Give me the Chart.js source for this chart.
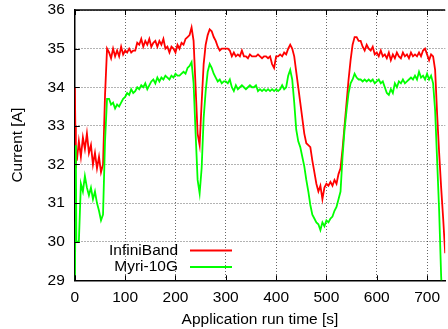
<!DOCTYPE html>
<html>
<head>
<meta charset="utf-8">
<script src="https://cdn.jsdelivr.net/npm/chart.js@4/dist/chart.umd.min.js"></script>
<style>
  html, body { margin: 0; padding: 0; background: #fff; overflow: hidden; }
  #wrap { width: 448px; height: 329px; }
</style>
</head>
<body>
<div id="wrap"><canvas id="powerChart" width="448" height="329"></canvas></div>
<script>
// =====================
// Data
// =====================
const timeSec = [
    0, 1, 2, 3, 4, 8, 12, 16, 20, 24, 28, 32, 36, 40, 44, 48, 52, 56, 60, 64,
    68, 72, 76, 80, 84, 88, 92, 96, 100, 104, 108, 112, 116, 120, 124, 128, 132, 136, 140, 144,
    148, 152, 156, 160, 164, 168, 172, 176, 180, 184, 188, 192, 196, 200, 204, 208, 212, 216, 220, 224,
    228, 232, 236, 240, 244, 248, 252, 256, 260, 264, 268, 272, 276, 280, 284, 288, 292, 296, 300, 304,
    308, 312, 316, 320, 324, 328, 332, 336, 340, 344, 348, 352, 356, 360, 364, 368, 372, 376, 380, 384,
    388, 392, 396, 400, 404, 408, 412, 416, 420, 424, 428, 432, 436, 440, 444, 448, 452, 456, 460, 464,
    468, 472, 476, 480, 484, 488, 492, 496, 500, 504, 508, 512, 516, 520, 524, 528, 532, 536, 540, 544,
    548, 552, 556, 560, 564, 568, 572, 576, 580, 584, 588, 592, 596, 600, 604, 608, 612, 616, 620, 624,
    628, 632, 636, 640, 644, 648, 652, 656, 660, 664, 668, 672, 676, 680, 684, 688, 692, 696, 700, 704,
    708, 712, 716, 720, 724, 728, 732, 736, 740, 744
];

const infiniBand = [
    34.0, 33.0, 31.9, 32.3, 32.1, 32.6, 32.2, 32.7, 32.4, 32.8, 32.3, 32.5, 32.0, 32.3, 31.9, 32.2, 31.8, 32.0, 33.8, 35.0,
    34.9, 34.75, 35.0, 34.8, 34.95, 34.8, 35.05, 34.85, 34.95, 34.9, 35.0, 34.9, 34.95, 34.95, 35.15, 35.1, 35.25, 35.05, 35.2, 35.1,
    35.25, 35.05, 35.15, 35.2, 35.05, 35.2, 35.1, 35.25, 35.0, 35.05, 34.9, 35.05, 35.0, 34.9, 35.1, 35.0, 35.15, 35.1, 35.25, 35.3,
    35.35, 35.55, 35.2, 34.0, 32.8, 32.5, 33.6, 34.6, 35.1, 35.35, 35.5, 35.45, 35.3, 35.2, 35.05, 34.95, 35.0, 35.0, 35.0, 35.0,
    34.95, 34.8, 34.9, 34.8, 34.85, 34.8, 34.95, 34.8, 34.8, 34.75, 34.85, 34.8, 34.8, 34.8, 34.85, 34.8, 34.75, 34.8, 34.8, 34.75,
    34.8, 34.6, 34.5, 34.8, 34.8, 34.85, 34.8, 34.9, 34.85, 35.0, 35.1, 35.0, 34.8, 34.4, 34.0, 33.6, 33.2, 32.8, 32.55, 32.5,
    32.45, 32.1, 31.8, 31.5, 31.3, 31.45, 31.1, 31.4, 31.5, 31.45, 31.55, 31.45, 31.6, 31.5, 31.75, 31.9, 32.4, 33.0, 33.6, 34.2,
    34.7, 35.1, 35.3, 35.3, 35.2, 35.2, 35.05, 34.95, 35.1, 35.0, 34.95, 35.05, 34.85, 34.9, 34.8, 34.95, 34.8, 34.85, 34.75, 34.9,
    34.7, 34.85, 34.75, 34.9, 34.8, 34.75, 34.9, 34.8, 34.85, 34.75, 34.9, 34.8, 34.85, 34.8, 34.9, 34.8, 34.95, 35.0, 34.85, 34.7,
    34.85, 34.8, 34.45, 33.3, 32.3, 31.4, 30.6, 29.7, 28.9, 28.2
];

const myri10G = [
    28.6, 30.5, 32.5, 30.0, 30.0, 30.0, 31.5, 31.3, 31.7, 31.4, 31.2, 31.4, 31.1, 31.3, 31.0, 30.8, 30.55, 30.7, 32.6, 33.7,
    33.7, 33.55, 33.6, 33.45, 33.55, 33.5, 33.6, 33.7, 33.75, 33.85, 33.8, 33.95, 33.85, 33.9, 34.0, 33.95, 34.05, 34.0, 34.1, 33.95,
    34.05, 34.15, 34.2, 34.1, 34.25, 34.15, 34.25, 34.2, 34.3, 34.25, 34.2, 34.3, 34.25, 34.35, 34.3, 34.3, 34.35, 34.4, 34.35, 34.5,
    34.55, 34.65, 34.1, 32.8, 31.6, 31.25, 31.9, 33.2, 33.9, 34.4, 34.6, 34.5, 34.35, 34.25, 34.15, 34.2, 34.1, 34.15, 34.15, 34.1,
    34.2, 34.0, 33.9, 34.05, 33.95, 34.0, 34.05, 34.0, 33.95, 34.0, 34.05, 34.0, 34.0, 34.05, 33.9, 33.95, 33.9, 33.95, 33.9, 33.95,
    33.9, 33.95, 33.9, 33.95, 33.9, 33.95, 34.05, 33.95, 34.0, 34.3, 34.45, 34.2, 33.6, 32.9, 32.6, 32.45, 32.2, 31.95, 31.6, 31.3,
    30.95, 30.7, 30.6, 30.5, 30.45, 30.3, 30.5, 30.4, 30.55, 30.5, 30.6, 30.65, 30.8, 30.9, 31.1, 31.3, 32.2, 32.9, 33.4, 33.85,
    34.1, 34.2, 34.35, 34.25, 34.2, 34.2, 34.15, 34.2, 34.15, 34.2, 34.15, 34.2, 34.1, 34.15, 34.2, 34.1, 34.15, 34.0, 33.85, 33.8,
    33.95, 33.85, 34.1, 34.0, 34.15, 34.1, 34.2, 34.1, 34.15, 34.2, 34.25, 34.2, 34.3, 34.2, 34.4, 34.25, 34.3, 34.2, 34.35, 34.2,
    34.3, 34.1, 33.4, 32.1, 30.8, 29.1, 28.0, 28.0, 28.0, 28.0
];

const yTicks = [29, 30, 31, 32, 33, 34, 35, 36];
const xTicks = [0, 100, 200, 300, 400, 500, 600, 700];

const seriesNames = ['InfiniBand', 'Myri-10G'];
const seriesColors = ['#ff0000', '#00ff00'];

const FONT = { family: '"Liberation Sans", Arial, sans-serif', size: 15.5 };

// =====================
// Frame + gnuplot style key
// =====================
const framePlugin = {
    id: 'frame',
    afterDraw(chart) {
        const { ctx, chartArea } = chart;
        const xs = chart.scales.x;
        const ys = chart.scales.y;
        ctx.save();
        ctx.setLineDash([]);
        // top border
        ctx.strokeStyle = '#000';
        ctx.lineWidth = 1.5;
        ctx.beginPath();
        ctx.moveTo(chartArea.left, chartArea.top);
        ctx.lineTo(chartArea.right, chartArea.top);
        ctx.stroke();

        // small inward tick marks
        ctx.lineWidth = 1;
        ctx.beginPath();
        xTicks.forEach(v => {
            const px = Math.round(xs.getPixelForValue(v)) + 0.5;
            ctx.moveTo(px, chartArea.bottom);
            ctx.lineTo(px, chartArea.bottom - 5);
            ctx.moveTo(px, chartArea.top);
            ctx.lineTo(px, chartArea.top + 5);
        });
        yTicks.forEach(v => {
            const py = Math.round(ys.getPixelForValue(v)) + 0.5;
            ctx.moveTo(chartArea.left, py);
            ctx.lineTo(chartArea.left + 5, py);
        });
        ctx.stroke();

        // key: text right-aligned, then sample line
        ctx.font = FONT.size + 'px ' + FONT.family;
        ctx.textAlign = 'right';
        ctx.textBaseline = 'middle';
        ctx.fillStyle = '#000';
        const keyY = [250.5, 267];
        seriesNames.forEach((name, i) => {
            ctx.fillText(name, 178, keyY[i]);
            ctx.strokeStyle = seriesColors[i];
            ctx.lineWidth = 2;
            ctx.beginPath();
            ctx.moveTo(190, keyY[i]);
            ctx.lineTo(232, keyY[i]);
            ctx.stroke();
        });
        ctx.restore();
    }
};

// =====================
// Chart
// =====================
function initChart() {
    const ctx = document.getElementById('powerChart').getContext('2d');
    const gridStyle = {
        color: 'rgba(0,0,0,0.6)',
        lineWidth: 1,
        drawTicks: false
    };

    new Chart(ctx, {
        type: 'line',
        data: {
            datasets: [
                {
                    label: seriesNames[0],
                    data: timeSec.map((t, i) => ({ x: t, y: infiniBand[i] })),
                    borderColor: seriesColors[0],
                    borderWidth: 1.8,
                    pointRadius: 0,
                    tension: 0,
                    order: 1
                },
                {
                    label: seriesNames[1],
                    data: timeSec.map((t, i) => ({ x: t, y: myri10G[i] })),
                    borderColor: seriesColors[1],
                    borderWidth: 1.8,
                    pointRadius: 0,
                    tension: 0,
                    order: 0
                }
            ]
        },
        options: {
            responsive: false,
            animation: false,
            events: [],
            layout: { padding: { top: 10, right: 0, bottom: 0, left: 0 } },
            plugins: {
                legend: { display: false },
                tooltip: { enabled: false }
            },
            scales: {
                x: {
                    type: 'linear',
                    min: 0,
                    max: 736,
                    afterBuildTicks: scale => {
                        scale.ticks = xTicks.map(v => ({ value: v }));
                    },
                    ticks: { color: '#000', font: FONT, padding: 8, maxRotation: 0 },
                    grid: gridStyle,
                    border: { display: true, color: '#000', width: 1.5, dash: [1, 2] },
                    title: {
                        display: true,
                        text: 'Application run time [s]',
                        color: '#000',
                        font: FONT,
                        padding: { top: -4.5, bottom: 0 }
                    }
                },
                y: {
                    min: 29,
                    max: 36,
                    afterBuildTicks: scale => {
                        scale.ticks = yTicks.map(v => ({ value: v }));
                    },
                    afterFit: scale => {
                        // keep the top label overhang from pushing the plot down
                        scale.paddingTop = 0;
                        scale.paddingBottom = 0;
                    },
                    ticks: { color: '#000', font: FONT, padding: 10 },
                    grid: gridStyle,
                    border: { display: true, color: '#000', width: 1.5, dash: [1, 2] },
                    title: {
                        display: true,
                        text: 'Current [A]',
                        color: '#000',
                        font: FONT,
                        padding: { top: 8, bottom: 11 }
                    }
                }
            }
        },
        plugins: [framePlugin]
    });
}

window.onload = initChart;
</script>
</body>
</html>
